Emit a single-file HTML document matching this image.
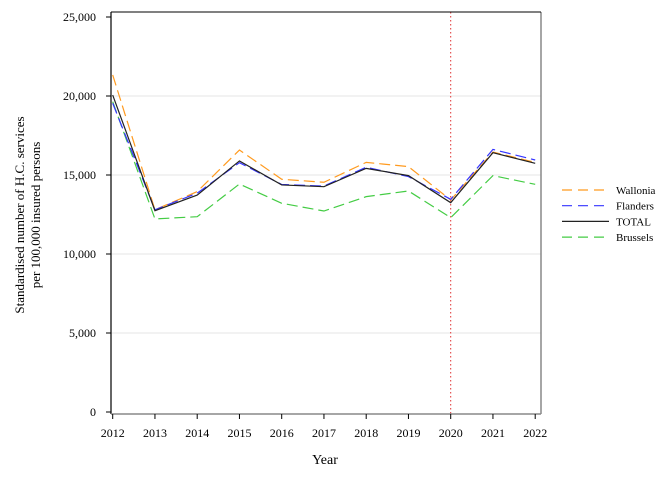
<!DOCTYPE html>
<html><head><meta charset="utf-8"><style>
body{margin:0;background:#fff;width:672px;height:480px;overflow:hidden}
text{font-family:"Liberation Serif",serif;fill:#000}
</style></head><body>
<svg id="chart" width="672" height="480" viewBox="0 0 672 480" xmlns="http://www.w3.org/2000/svg">
<rect x="111" y="12" width="430" height="402" fill="#fff" stroke="none"/>
<g id="grid"></g>
<g id="marks"></g>
<line x1="111" y1="12" x2="111" y2="414" stroke="#000" stroke-width="1.2"/>
<line x1="111" y1="414" x2="541" y2="414" stroke="#888" stroke-width="1.5"/>
<line x1="541" y1="12" x2="541" y2="414" stroke="#888" stroke-width="1.5"/>
<line x1="111" y1="12" x2="541" y2="12" stroke="#000" stroke-width="1"/>
<g id="axes"></g>
<text x="325" y="464" font-size="14" text-anchor="middle">Year</text>
<text transform="translate(24,215) rotate(-90)" font-size="13" text-anchor="middle"><tspan x="0" dy="0">Standardised number of H.C. services</tspan><tspan x="0" dy="16">per 100,000 insured persons</tspan></text>
<g id="legend"></g>
</svg>
<script>
const years = [2012,2013,2014,2015,2016,2017,2018,2019,2020,2021,2022];
const wallonia = [21330,12800,13950,16580,14730,14540,15800,15530,13420,16450,15800];
const flanders = [19540,12800,13850,15780,14400,14300,15490,14900,13460,16620,15950];
const total = [20060,12740,13730,15890,14370,14260,15420,14960,13250,16410,15740];
const brussels = [19640,12220,12360,14430,13210,12720,13630,13990,12300,14960,14410];
const yTicks = [0,5000,10000,15000,20000,25000];
const yTickLabels = ["0","5,000","10,000","15,000","20,000","25,000"];
const markerYear = 2020;

const NS="http://www.w3.org/2000/svg";
const x = yr => 112.7 + (yr-2012)*42.25;
const y = v => 412 - v/5000*79;
function mk(tag, attrs, parent){const e=document.createElementNS(NS,tag);for(const k in attrs)e.setAttribute(k,attrs[k]);parent.appendChild(e);return e;}
const grid=document.getElementById('grid'), axes=document.getElementById('axes'), marks=document.getElementById('marks'), legend=document.getElementById('legend');

yTicks.forEach((t,i)=>{
  if(t>0 && t<25000){const g=mk('line',{x1:111,x2:541,y1:y(t),y2:y(t),stroke:'#e6e6e6','stroke-width':1},grid);
  
  }
  const tk=mk('line',{x1:106,x2:111,y1:y(t),y2:y(t),stroke:'#000'},axes);
  
  
  const lb=mk('text',{x:96,y:y(t)+4,'font-size':12,'text-anchor':'end'},axes);
  lb.textContent=yTickLabels[i];
  
  
});
years.forEach(yr=>{
  const tk=mk('line',{x1:x(yr),x2:x(yr),y1:414,y2:419,stroke:'#000'},axes);
  
  
  const lb=mk('text',{x:x(yr),y:437,'font-size':12,'text-anchor':'middle'},axes);
  lb.textContent=yr;
  
  
});
const ref=mk('line',{x1:x(markerYear),x2:x(markerYear),y1:12,y2:414,stroke:'#e03030','stroke-dasharray':'1.5,2.5','stroke-width':1},marks);



const series=[
 {name:'Wallonia',vals:wallonia,color:'#ff9a1f',dash:'11,5'},
 {name:'Flanders',vals:flanders,color:'#3535ff',dash:'11,5'},
 {name:'TOTAL',vals:total,color:'#222',dash:''},
 {name:'Brussels',vals:brussels,color:'#44cc44',dash:'11,5'}
];
// draw order: brussels, wallonia, flanders, total
[3,0,1,2].forEach(i=>{
  const s=series[i];
  const p=mk('polyline',{points:s.vals.map((v,j)=>x(years[j])+','+y(v)).join(' '),fill:'none',stroke:s.color,'stroke-width':1.2,'stroke-dasharray':s.dash},marks);
  
  
});
series.forEach((s,i)=>{
  const ly=190+i*15.7;
  const l=mk('line',{x1:562,x2:609,y1:ly,y2:ly,stroke:s.color,'stroke-width':1.2,'stroke-dasharray':s.dash?'10,6':''},legend);
  
  
  const t=mk('text',{x:616,y:ly+4,'font-size':11},legend);
  t.textContent=s.name;
  
  
});
</script>
</body></html>
